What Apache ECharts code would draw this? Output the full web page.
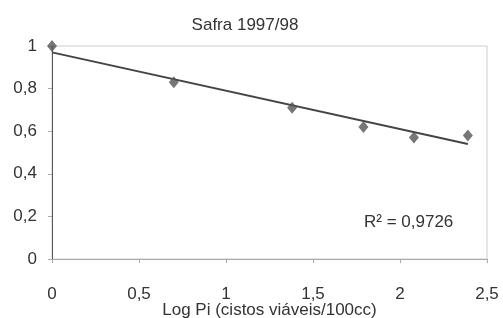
<!DOCTYPE html>
<html>
<head>
<meta charset="UTF-8">
<title>Safra 1997/98</title>
<script src="https://cdn.jsdelivr.net/npm/echarts@6/dist/echarts.min.js"></script>
<style>body{margin:0;background:#fff}</style>
</head>
<body>
<div id="main" style="width:503px;height:318px;"></div>
<script type="text/javascript">
var chart = echarts.init(document.getElementById('main'));

// observed points: log Pi vs relative value
var logPi = [0, 0.7, 1.38, 1.79, 2.08, 2.39];
var ratio = [1.0, 0.83, 0.71, 0.62, 0.57, 0.58];
// linear trendline end points as drawn
var trendX = [0, 2.39];
var trendY = [0.97, 0.54];
var r2Label = 'R² = 0,9726';

function comma(v) { return String(v).replace('.', ','); }

var font = 'Liberation Sans, Arial, sans-serif';
var fs = 17;

var option = {
    animation: false,
    backgroundColor: '#fff',
    title: {
        text: 'Safra 1997/98',
        left: 240, top: 12, textAlign: 'center',
        textStyle: { fontFamily: font, fontSize: fs, fontWeight: 'normal', color: '#333' }
    },
    grid: {
        left: 52, right: 16, top: 46, bottom: 59,
        outerBoundsMode: 'none',
        show: true, borderColor: '#ccc', borderWidth: 1
    },
    xAxis: {
        type: 'value', min: 0, max: 2.5, interval: 0.5,
        name: 'Log Pi (cistos viáveis/100cc)',
        nameLocation: 'middle', nameGap: 43, nameMoveOverlap: false,
        nameTextStyle: { fontFamily: font, fontSize: fs, color: '#333' },
        axisLine: { lineStyle: { color: '#aaa', width: 1 } },
        axisTick: { show: true, inside: false, length: 4, lineStyle: { color: '#aaa' } },
        splitLine: { show: false },
        axisLabel: { fontFamily: font, fontSize: fs, color: '#333', margin: 27, formatter: comma }
    },
    yAxis: {
        type: 'value', min: 0, max: 1, interval: 0.2,
        axisLine: { show: true, lineStyle: { color: '#555', width: 1 } },
        axisTick: { show: true, length: 4, lineStyle: { color: '#aaa' } },
        splitLine: { show: false },
        axisLabel: { fontFamily: font, fontSize: fs, color: '#333', margin: 15, formatter: comma }
    },
    series: [
        {
            type: 'line',
            data: trendX.map(function (x, i) { return [x, trendY[i]]; }),
            showSymbol: false,
            lineStyle: { color: '#444', width: 2 },
            z: 2
        },
        {
            type: 'scatter',
            data: logPi.map(function (x, i) { return [x, ratio[i]]; }),
            symbol: 'diamond',
            symbolSize: [10, 12],
            itemStyle: { color: '#555' },
            z: 3
        }
    ],
    graphic: [{
        type: 'text', left: 364, top: 214,
        style: { text: r2Label, font: fs + 'px ' + font, fill: '#333' }
    }]
};
chart.setOption(option);
</script>
</body>
</html>
